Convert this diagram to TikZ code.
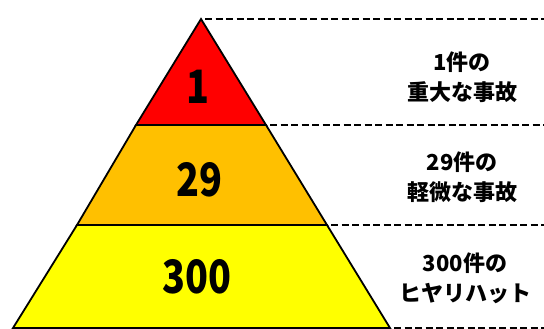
\documentclass[tikz,border=0pt]{standalone}
\usepackage{fontspec}
\newfontfamily\jpfont{Noto Sans CJK JP}
\definecolor{tierred}{HTML}{FF0000}
\definecolor{tierorange}{HTML}{FFC000}
\definecolor{tieryellow}{HTML}{FFFF00}
\begin{document}
\begin{tikzpicture}[
        x=1pt, y=-1pt,
        tier/.style={draw=black, line width=1.8pt, line join=miter},
        guide/.style={draw=black, line width=2pt, dash pattern=on 7pt off 3.5pt},
        count/.style={font=\jpfont\bfseries\fontsize{46}{46}\selectfont, inner sep=0pt, xscale=0.82},
        casetext/.style={font=\jpfont\bfseries\fontsize{22}{30}\selectfont, align=center, inner sep=0pt}
    ]
    \useasboundingbox (0,0) rectangle (544,329);
    \coordinate (apex) at (201,19);
    \coordinate (oneL) at (136,125);
    \coordinate (oneR) at (266,125);
    \coordinate (twoL) at (77,225);
    \coordinate (twoR) at (327,225);
    \coordinate (baseL) at (13,328);
    \coordinate (baseR) at (390,328);
    \coordinate (edge0) at (544,19);
    \coordinate (edge1) at (544,125);
    \coordinate (edge2) at (544,225);
    \coordinate (edge3) at (544,328);

    \filldraw[tier, fill=tierred] (apex) -- (oneR) -- (oneL) -- cycle;
    \filldraw[tier, fill=tierorange] (oneL) -- (oneR) -- (twoR) -- (twoL) -- cycle;
    \filldraw[tier, fill=tieryellow] (twoL) -- (twoR) -- (baseR) -- (baseL) -- cycle;

    \draw[guide] ([xshift=4pt]apex) -- (edge0);
    \draw[guide] ([xshift=4pt]oneR) -- (edge1);
    \draw[guide] ([xshift=4pt]twoR) -- (edge2);
    \draw[guide] ([xshift=4pt]baseR) -- (edge3);

    \node[count] (n1) at (198,87) {1};
    \node[count] (n29) at (199,180) {29};
    \node[count] (n300) at (197,277) {300};

    \node[casetext] (c1) at (462,77) {1件の\\重大な事故};
    \node[casetext] (c29) at (462,177) {29件の\\軽微な事故};
    \node[casetext] (c300) at (465,278) {300件の\\ヒヤリハット};
\end{tikzpicture}
\end{document}
